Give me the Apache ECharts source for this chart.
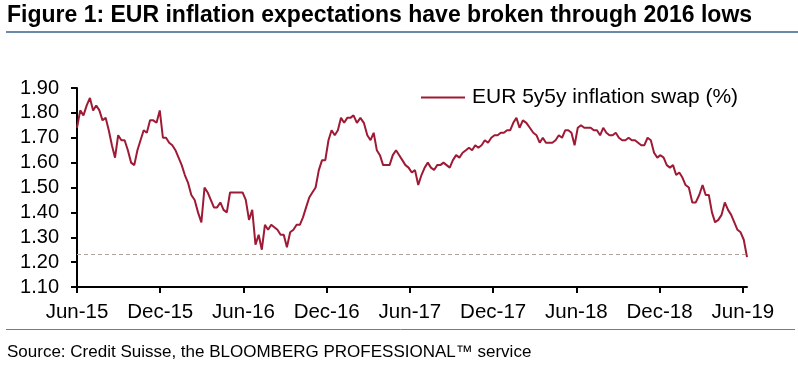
<!DOCTYPE html>
<html>
<head>
<meta charset="utf-8">
<script src="https://cdn.jsdelivr.net/npm/echarts@6/dist/echarts.min.js"></script>
<style>
html,body{margin:0;padding:0;background:#fff;}
#chart{width:798px;height:366px;}
</style>
</head>
<body>
<div id="chart"></div>
<script>
// Weekly observations, starting Monday 2015-06-01
const startDate = [2015, 5, 1];
const seriesName = 'EUR 5y5y inflation swap (%)';
const swapValues = [
  1.74,1.81,1.79,1.83,1.86,1.81,1.83,1.81,1.77,1.78,
  1.73,1.67,1.62,1.71,1.69,1.69,1.65,1.60,1.59,1.65,
  1.69,1.73,1.72,1.77,1.77,1.76,1.81,1.70,1.70,1.68,
  1.67,1.65,1.62,1.59,1.55,1.52,1.47,1.45,1.40,1.36,
  1.50,1.48,1.45,1.42,1.42,1.44,1.41,1.40,1.48,1.48,
  1.48,1.48,1.48,1.45,1.37,1.41,1.27,1.31,1.25,1.35,
  1.33,1.35,1.34,1.33,1.31,1.31,1.26,1.32,1.33,1.35,
  1.35,1.38,1.42,1.46,1.48,1.50,1.57,1.61,1.61,1.69,
  1.73,1.71,1.73,1.78,1.76,1.78,1.78,1.79,1.76,1.78,
  1.76,1.71,1.69,1.72,1.65,1.63,1.59,1.59,1.59,1.63,
  1.65,1.63,1.61,1.59,1.58,1.56,1.57,1.51,1.55,1.58,
  1.60,1.58,1.57,1.59,1.59,1.60,1.59,1.58,1.61,1.63,
  1.62,1.64,1.65,1.66,1.65,1.67,1.66,1.67,1.69,1.68,
  1.70,1.71,1.71,1.72,1.72,1.73,1.73,1.76,1.78,1.74,
  1.77,1.76,1.74,1.72,1.71,1.68,1.70,1.68,1.68,1.68,
  1.69,1.71,1.70,1.73,1.73,1.72,1.67,1.74,1.75,1.74,
  1.74,1.74,1.73,1.73,1.71,1.74,1.72,1.71,1.71,1.72,
  1.70,1.69,1.69,1.70,1.69,1.69,1.68,1.67,1.67,1.70,
  1.69,1.64,1.62,1.63,1.62,1.59,1.58,1.59,1.55,1.56,
  1.54,1.51,1.50,1.44,1.44,1.47,1.51,1.47,1.47,1.40,
  1.36,1.37,1.39,1.44,1.41,1.39,1.36,1.33,1.32,1.29,
  1.22
];
const tickLabels = ['Jun-15','Dec-15','Jun-16','Dec-16','Jun-17','Dec-17','Jun-18','Dec-18','Jun-19'];
const tickMonths = [0,6,12,18,24,30,36,42,48];
const dashLevel = 1.232;

function monthPos(d){
  const y = d.getUTCFullYear(), m = d.getUTCMonth();
  const dim = new Date(Date.UTC(y, m + 1, 0)).getUTCDate();
  return (y - 2015) * 12 + (m - 5) + (d.getUTCDate() - 1) / dim;
}
const t0 = Date.UTC(startDate[0], startDate[1], startDate[2]);
const points = swapValues.map((v, i) => [monthPos(new Date(t0 + i * 7 * 86400000)), v]);

const FONT = '"Liberation Sans", Arial, sans-serif';
const chart = echarts.init(document.getElementById('chart'), null, {renderer: 'canvas'});
chart.setOption({
  animation: false,
  backgroundColor: '#ffffff',
  textStyle: {fontFamily: FONT},
  grid: {left: 77, right: 51, top: 88, bottom: 79, containLabel: false},
  legend: {
    data: [seriesName],
    left: 421, top: 87, padding: 0,
    icon: 'rect',
    itemWidth: 44, itemHeight: 2, itemGap: 5,
    itemStyle: {color: '#9e1a35'},
    textStyle: {fontFamily: FONT, fontSize: 21, color: '#000', padding: [0, 0, 0, 2]},
    selectedMode: false
  },
  xAxis: {
    type: 'value', min: 0, max: 48.3, interval: 6,
    splitLine: {show: false},
    axisLine: {lineStyle: {color: '#000', width: 2}},
    axisTick: {show: true, length: 6, lineStyle: {color: '#000', width: 2}, customValues: tickMonths},
    axisLabel: {
      customValues: tickMonths,
      margin: 15, fontSize: 20.5, color: '#000', fontFamily: FONT,
      formatter: v => { const i = tickMonths.indexOf(Math.round(v)); return i >= 0 ? tickLabels[i] : ''; }
    }
  },
  yAxis: {
    type: 'value', min: 1.1, max: 1.9, interval: 0.1,
    splitLine: {show: false},
    axisLine: {show: true, lineStyle: {color: '#000', width: 2}},
    axisTick: {show: true, length: 6, lineStyle: {color: '#000', width: 2}},
    axisLabel: {margin: 18, fontSize: 20, color: '#000', fontFamily: FONT, formatter: v => v.toFixed(2)}
  },
  series: [{
    name: seriesName,
    type: 'line',
    data: points,
    symbol: 'none',
    lineStyle: {color: '#9e1a35', width: 2},
    itemStyle: {color: '#9e1a35'},
    markLine: {
      silent: true, symbol: 'none', label: {show: false},
      lineStyle: {color: '#aea49b', type: [4, 3], width: 1},
      data: [{yAxis: dashLevel}]
    }
  }],
  graphic: [
    {type: 'text', left: 7, top: 4, style: {text: 'Figure 1: EUR inflation expectations have broken through 2016 lows', font: 'bold 23px ' + FONT, fill: '#000'}},
    {type: 'line', shape: {x1: 6, y1: 32, x2: 798, y2: 32}, style: {stroke: '#6d89a8', lineWidth: 2}},
    {type: 'line', shape: {x1: 6, y1: 329.5, x2: 795, y2: 329.5}, style: {stroke: '#7a7a7a', lineWidth: 1}},
    {type: 'text', left: 7, top: 344, style: {text: 'Source: Credit Suisse, the BLOOMBERG PROFESSIONAL\u2122 service', font: '17px ' + FONT, fill: '#000'}}
  ]
});
</script>
</body>
</html>
